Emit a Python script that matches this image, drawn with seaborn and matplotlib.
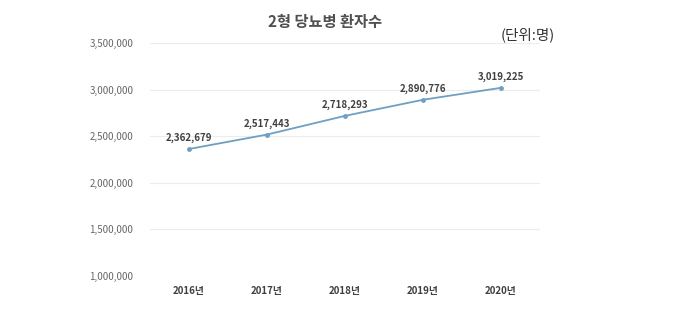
import matplotlib
matplotlib.use("Agg")
import matplotlib.pyplot as plt
import seaborn as sns
import pandas as pd
from matplotlib.ticker import FuncFormatter

years = ["2016년", "2017년", "2018년", "2019년", "2020년"]
patients = [2362679, 2517443, 2718293, 2890776, 3019225]
title = "2형 당뇨병 환자수"
unit = "(단위:명)"

sns.set_theme(style="white")
plt.rcParams['font.family'] = ['Noto Sans CJK KR', 'DejaVu Sans']

df = pd.DataFrame({"year": years, "patients": patients})

fig = plt.figure(figsize=(6.8, 3.36), dpi=100)
ax = fig.add_axes([150/680, 1-276/336, 390/680, 233/336])
sns.lineplot(data=df, x="year", y="patients", ax=ax, color="#6f9fc2",
             marker="o", markersize=3.5, markeredgewidth=0, linewidth=1.3, sort=False)

ax.set_xlim(-0.5, 4.5)
ax.set_ylim(1000000, 3500000)
ax.set_yticks([1000000, 1500000, 2000000, 2500000, 3000000, 3500000])
ax.yaxis.set_major_formatter(FuncFormatter(lambda v, p: f"{int(v):,}"))
ax.grid(axis="y", color="#ececec", linewidth=0.8)
ax.set_axisbelow(True)
for s in ax.spines.values():
    s.set_visible(False)
ax.set_xlabel("")
ax.set_ylabel("")
ax.tick_params(axis="y", labelsize=7, colors="#666666", length=0, pad=12)
ax.tick_params(axis="x", labelsize=7, colors="#404040", length=0, pad=7)
for lbl in ax.get_xticklabels():
    lbl.set_fontweight("bold")

for i, v in enumerate(patients):
    ax.annotate(f"{v:,}", (i, v), xytext=(0, 4), textcoords="offset points",
                ha="center", va="bottom", fontsize=7, fontweight="bold", color="#404040")

fig.text(325/680, 1-22/336, title, ha="center", va="center", fontsize=11,
         fontweight="bold", color="#505050")
fig.text(555/680, 1-35/336, unit, ha="right", va="center", fontsize=10.5,
         color="#333333")

fig.savefig("out.png", dpi=100, facecolor="white")
